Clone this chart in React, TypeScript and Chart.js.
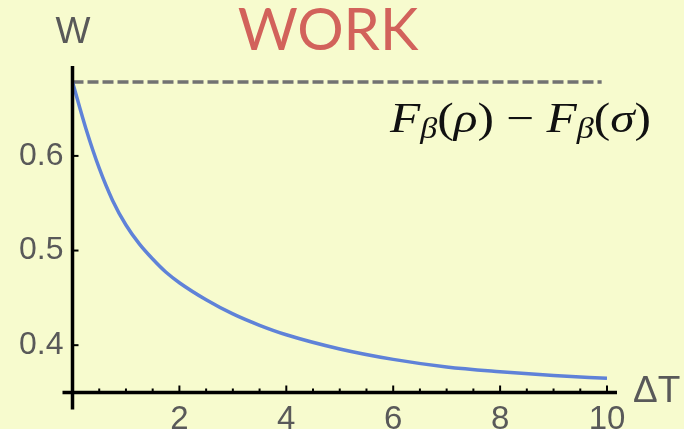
import React, { useEffect, useRef } from "react";
import { Chart, registerables } from "chart.js";

Chart.register(...registerables);

// Work W as a function of the temperature gap ΔT
const deltaT = [0, 0.25, 0.5, 0.75, 1, 1.25, 1.5, 1.75, 2, 2.5, 3, 3.5, 4, 5, 6, 7, 8, 9, 10];
const work = [0.678, 0.629, 0.587, 0.553, 0.527, 0.507, 0.491, 0.477, 0.466, 0.448, 0.433, 0.421, 0.411, 0.396, 0.385, 0.377, 0.372, 0.368, 0.365];

// Free-energy difference F_β(ρ) − F_β(σ), drawn as a dashed bound
const boundX = [0, 9.9];
const boundValue = 0.678;

const xTicks = [2, 4, 6, 8, 10];
const yTicks = [0.4, 0.5, 0.6];
const xMinorStep = 0.5;

const yMin = 0.35;
const yMax = 0.695;

const BG = "#F7FBCE";
const AXIS = "#000000";
const LABEL = "#595959";
const CURVE = "#5F82D8";
const DASH = "#727272";
const TITLE = "#D2625B";

const axesPlugin = {
  id: "crossAxes",
  beforeDraw(chart: any) {
    const { ctx, width, height } = chart;
    ctx.save();
    ctx.fillStyle = BG;
    ctx.fillRect(0, 0, width, height);
    ctx.restore();
  },
  afterDatasetsDraw(chart: any) {
    const { ctx, chartArea } = chart;
    const xs = chart.scales.x;
    const ys = chart.scales.y;
    const x0 = xs.getPixelForValue(0);
    const y0 = ys.getPixelForValue(yMin);
    ctx.save();
    ctx.strokeStyle = AXIS;
    ctx.lineWidth = 3.5;
    ctx.lineCap = "butt";
    // vertical axis, running a little below the horizontal one
    ctx.beginPath();
    ctx.moveTo(x0, chartArea.top);
    ctx.lineTo(x0, y0 + 17);
    ctx.stroke();
    // horizontal axis, running a little left of the vertical one
    ctx.beginPath();
    ctx.moveTo(x0 - 10, y0);
    ctx.lineTo(xs.getPixelForValue(10) + 10, y0);
    ctx.stroke();

    // x ticks: major at labels, minor every half unit
    ctx.lineWidth = 2;
    for (let v = xMinorStep; v <= 10 + 1e-9; v += xMinorStep) {
      const px = xs.getPixelForValue(v);
      const major = xTicks.some((t) => Math.abs(t - v) < 1e-9);
      const len = major ? 7 : 4;
      ctx.beginPath();
      ctx.moveTo(px, y0);
      ctx.lineTo(px, y0 - len);
      ctx.stroke();
    }
    // y ticks
    for (const v of yTicks) {
      const py = ys.getPixelForValue(v);
      ctx.beginPath();
      ctx.moveTo(x0, py);
      ctx.lineTo(x0 + 6, py);
      ctx.stroke();
    }
    ctx.restore();
  },
  afterDraw(chart: any) {
    const { ctx } = chart;
    ctx.save();
    // title
    ctx.fillStyle = TITLE;
    ctx.font = "58px Lato";
    ctx.textAlign = "center";
    ctx.textBaseline = "alphabetic";
    ctx.fillText("WORK", 328, 50);

    // axis names
    ctx.fillStyle = LABEL;
    ctx.font = "37px 'Liberation Sans'";
    ctx.textAlign = "center";
    ctx.fillText("W", 73, 43);
    ctx.textAlign = "left";
    ctx.fillText("ΔT", 633, 402);

    // formula label for the dashed bound
    const parts: { t: string; italic: boolean; sub?: boolean }[] = [
      { t: "F", italic: true },
      { t: "β", italic: true, sub: true },
      { t: "(", italic: false },
      { t: "ρ", italic: true },
      { t: ")", italic: false },
      { t: " − ", italic: false },
      { t: "F", italic: true },
      { t: "β", italic: true, sub: true },
      { t: "(", italic: false },
      { t: "σ", italic: true },
      { t: ")", italic: false },
    ];
    const size = 42;
    const subSize = 29;
    const baseline = 132;
    const fontFor = (p: any) =>
      `${p.italic ? "italic " : ""}${p.sub ? subSize : size}px 'Liberation Serif'`;
    let total = 0;
    for (const p of parts) {
      ctx.font = fontFor(p);
      total += ctx.measureText(p.t).width;
    }
    const startX = 390;
    const endX = 651;
    const sx = (endX - startX) / total;
    ctx.translate(startX, 0);
    ctx.scale(sx, 1);
    ctx.fillStyle = "#111";
    ctx.textAlign = "left";
    let cx = 0;
    for (const p of parts) {
      ctx.font = fontFor(p);
      ctx.fillText(p.t, cx, p.sub ? baseline + 6 : baseline);
      cx += ctx.measureText(p.t).width;
    }
    ctx.restore();
  },
};

export default function App() {
  const canvasRef = useRef<HTMLCanvasElement | null>(null);

  useEffect(() => {
    const canvas = canvasRef.current;
    if (!canvas) return;
    const chart = new Chart(canvas, {
      type: "line",
      data: {
        datasets: [
          {
            data: deltaT.map((x, i) => ({ x, y: work[i] })),
            borderColor: CURVE,
            borderWidth: 3.5,
            pointRadius: 0,
            cubicInterpolationMode: "monotone",
            fill: false,
          },
          {
            data: boundX.map((x) => ({ x, y: boundValue })),
            borderColor: DASH,
            borderWidth: 3.5,
            borderDash: [11, 4],
            pointRadius: 0,
            fill: false,
          },
        ],
      },
      options: {
        responsive: false,
        animation: false,
        events: [],
        layout: { padding: { left: 0, right: 77, top: 66, bottom: 0 } },
        plugins: {
          legend: { display: false },
          tooltip: { enabled: false },
          title: { display: false },
        },
        scales: {
          x: {
            type: "linear",
            min: 0,
            max: 10,
            grid: { display: false, drawTicks: false },
            border: { display: false },
            afterBuildTicks: (s: any) => {
              s.ticks = xTicks.map((v) => ({ value: v }));
            },
            afterFit: (s: any) => {
              s.height = 36.5;
            },
            ticks: {
              color: LABEL,
              font: { family: "'Liberation Sans'", size: 33 },
              padding: 8,
              maxRotation: 0,
              autoSkip: false,
              callback: (v: any) => String(v),
            },
          },
          y: {
            type: "linear",
            min: yMin,
            max: yMax,
            grid: { display: false, drawTicks: false },
            border: { display: false },
            afterBuildTicks: (s: any) => {
              s.ticks = yTicks.map((v) => ({ value: v }));
            },
            afterFit: (s: any) => {
              s.width = 72.5;
            },
            ticks: {
              color: LABEL,
              font: { family: "'Liberation Sans'", size: 32 },
              padding: 9,
              autoSkip: false,
              callback: (v: any) => Number(v).toFixed(1),
            },
          },
        },
      },
      plugins: [axesPlugin],
    });
    return () => chart.destroy();
  }, []);

  return (
    <div style={{ position: "fixed", left: 0, top: 0, width: 684, height: 429, background: BG }}>
      <canvas ref={canvasRef} width={684} height={429} style={{ display: "block" }} />
    </div>
  );
}
